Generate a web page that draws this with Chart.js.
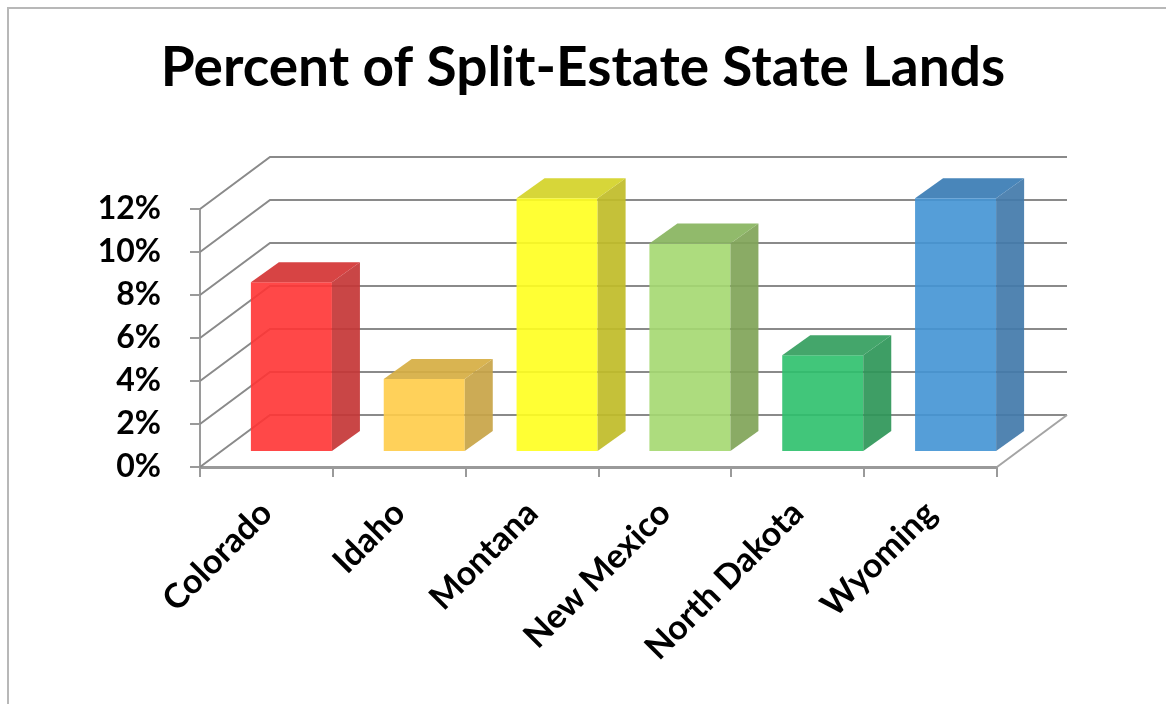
<!DOCTYPE html>
<html>
<head>
<meta charset="utf-8">
<title>Percent of Split-Estate State Lands</title>
<script src="https://cdn.jsdelivr.net/npm/chart.js@4.4.1/dist/chart.umd.min.js"></script>
<style>
    html, body { margin: 0; padding: 0; background: #fff; }
    #wrap { position: relative; width: 1166px; height: 704px; overflow: hidden; }
    #frame { position: absolute; left: 7px; top: 7px; width: 1200px; height: 760px;
             border-left: 2px solid #b8b8b8; border-top: 2px solid #b8b8b8; }
    #splitEstate { position: absolute; left: 0; top: 0; }
</style>
</head>
<body>
<div id="wrap">
    <div id="frame"></div>
    <canvas id="splitEstate" width="1166" height="704"></canvas>
</div>
<script>
// ::::: The data :::::
const states = ['Colorado', 'Idaho', 'Montana', 'New Mexico', 'North Dakota', 'Wyoming'];
const splitEstatePercent = [7.9, 3.4, 11.8, 9.7, 4.5, 11.8];
const yTickValues = [0, 2, 4, 6, 8, 10, 12];

// ::::: Bar face colours (front, right side, top) :::::
const frontColors = ['rgba(255,52,52,0.9)', 'rgba(255,204,72,0.9)', 'rgba(255,255,30,0.9)',
                     'rgba(164,216,112,0.9)', 'rgba(44,192,108,0.9)', 'rgba(66,148,212,0.9)'];
const sideColors = ['rgba(196,54,54,0.92)', 'rgba(200,164,70,0.92)', 'rgba(192,188,40,0.92)',
                    'rgba(128,164,88,0.92)', 'rgba(46,150,88,0.92)', 'rgba(66,122,170,0.92)'];
const topColors = ['rgba(212,52,52,0.92)', 'rgba(214,174,66,0.92)', 'rgba(212,210,40,0.92)',
                   'rgba(136,180,94,0.92)', 'rgba(52,158,94,0.92)', 'rgba(58,124,180,0.92)'];

// ::::: 3D look :::::
// • wallDepth is how far the back wall sits from the front axis.
// • barShift moves the bars into the middle of the floor.
// • barDepth is how deep each box is.
const wallDepth = { x: 70, y: -52 };
const barShift = { x: 25, y: -15 };
const barDepth = { x: 28, y: -20 };
const wallColor = '#8a8a8a';

const box3d = {
    id: 'box3d',
    beforeDatasetsDraw(chart) {
        const ctx = chart.ctx;
        const area = chart.chartArea;
        const yScale = chart.scales.y;
        ctx.save();
        ctx.strokeStyle = wallColor;
        ctx.lineWidth = 2;
        // Left wall diagonals and back wall lines
        yTickValues.forEach((v) => {
            const py = yScale.getPixelForValue(v);
            ctx.beginPath();
            ctx.moveTo(area.left, py);
            ctx.lineTo(area.left + wallDepth.x, py + wallDepth.y);
            ctx.lineTo(area.right + wallDepth.x, py + wallDepth.y);
            ctx.stroke();
        });
        // Right edge of the floor
        ctx.strokeStyle = '#a4a4a4';
        ctx.beginPath();
        ctx.moveTo(area.right, area.bottom);
        ctx.lineTo(area.right + wallDepth.x, area.bottom + wallDepth.y);
        ctx.stroke();
        ctx.restore();

        // Bars are drawn a bit deeper than the front axis
        ctx.save();
        ctx.translate(barShift.x, barShift.y);
    },
    afterDatasetsDraw(chart) {
        const ctx = chart.ctx;
        const meta = chart.getDatasetMeta(0);
        meta.data.forEach((bar, i) => {
            const p = bar.getProps(['x', 'y', 'base', 'width'], true);
            const l = p.x - p.width / 2;
            const r = p.x + p.width / 2;
            // right side
            ctx.fillStyle = sideColors[i];
            ctx.beginPath();
            ctx.moveTo(r, p.y);
            ctx.lineTo(r + barDepth.x, p.y + barDepth.y);
            ctx.lineTo(r + barDepth.x, p.base + barDepth.y);
            ctx.lineTo(r, p.base);
            ctx.closePath();
            ctx.fill();
            // top
            ctx.fillStyle = topColors[i];
            ctx.beginPath();
            ctx.moveTo(l, p.y);
            ctx.lineTo(l + barDepth.x, p.y + barDepth.y);
            ctx.lineTo(r + barDepth.x, p.y + barDepth.y);
            ctx.lineTo(r, p.y);
            ctx.closePath();
            ctx.fill();
        });
        ctx.restore();
    }
};

const ctx = document.getElementById('splitEstate');
const splitEstateChart = new Chart(ctx, {
    type: 'bar',
    data: {
        labels: states,
        datasets: [{
            label: 'Percent of Split-Estate State Lands',
            data: splitEstatePercent,
            backgroundColor: frontColors,
            borderWidth: 0,
            barPercentage: 0.61,
            categoryPercentage: 1,
            clip: false
        }]
    },
    options: {
        responsive: false,
        animation: false,
        layout: {
            padding: { left: 0, right: 0, top: 0, bottom: 0 }
        },
        scales: {
            x: {
                afterFit: (scale) => { scale.height = 237; },
                grid: {
                    offset: true,
                    drawOnChartArea: false,
                    drawTicks: true,
                    tickLength: 10,
                    color: '#9a9a9a',
                    lineWidth: 2
                },
                border: { display: true, color: '#9a9a9a', width: 3 },
                ticks: {
                    maxRotation: 45,
                    minRotation: 45,
                    padding: 16,
                    color: '#000',
                    font: { family: 'Lato', weight: 'bold', size: 34 }
                }
            },
            y: {
                min: 0,
                max: 12,
                afterFit: (scale) => { scale.width = 200; },
                afterBuildTicks: (scale) => {
                    scale.ticks = yTickValues.map((v) => ({ value: v }));
                },
                grid: {
                    drawOnChartArea: false,
                    drawTicks: true,
                    tickLength: 10,
                    color: '#9a9a9a',
                    lineWidth: 2
                },
                border: { display: true, color: '#9a9a9a', width: 2 },
                ticks: {
                    padding: 29,
                    color: '#000',
                    font: { family: 'Lato', weight: 'bold', size: 32 },
                    callback: (value) => value + '%'
                }
            },
            // empty space on the right so the title stays centred on the page
            spacer: {
                position: 'right',
                afterFit: (scale) => { scale.width = 169; },
                grid: { display: false },
                border: { display: false },
                ticks: { display: false }
            }
        },
        plugins: {
            legend: { display: false },
            tooltip: { enabled: false },
            title: {
                display: true,
                text: 'Percent of Split-Estate State Lands',
                color: '#000',
                font: { family: 'Lato', weight: 'bold', size: 55, lineHeight: 1.2 },
                padding: { top: 35, bottom: 108 }
            }
        }
    },
    plugins: [box3d]
});
</script>
</body>
</html>
